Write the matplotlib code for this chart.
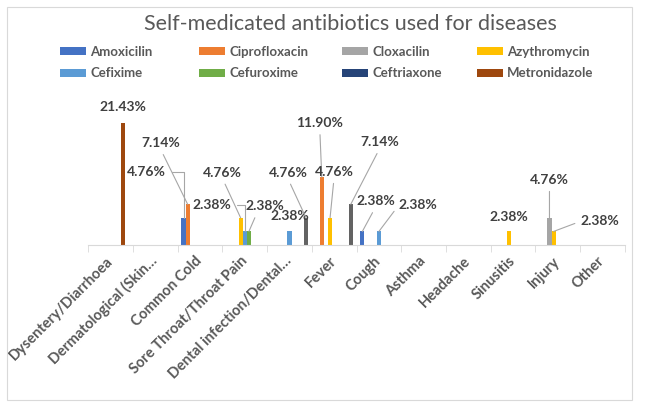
import numpy as np
import matplotlib.pyplot as plt
from matplotlib.patches import Rectangle

plt.rcParams['font.family'] = ['Lato', 'DejaVu Sans']

# Categories (diseases)
categories = ["Dysentery/Diarrhoea", "Dermatological (Skin\u2026", "Common Cold",
              "Sore Throat/Throat Pain", "Dental infection/Dental\u2026", "Fever",
              "Cough", "Asthma", "Headache", "Sinusitis", "Injury", "Other"]

# Series (antibiotics), values in %
series_names = ["Amoxicilin", "Ciprofloxacin", "Cloxacilin", "Azythromycin",
                "Cefixime", "Cefuroxime", "Ceftriaxone", "Metronidazole", ""]
amoxicilin    = [0, 0, 4.76, 0, 0, 0, 2.38, 0, 0, 0, 0, 0]
ciprofloxacin = [0, 0, 7.14, 0, 0, 11.90, 0, 0, 0, 0, 0, 0]
cloxacilin    = [0, 0, 0, 0, 0, 0, 0, 0, 0, 0, 4.76, 0]
azythromycin  = [0, 0, 0, 4.76, 0, 4.76, 0, 0, 0, 2.38, 2.38, 0]
cefixime      = [0, 0, 0, 2.38, 2.38, 0, 2.38, 0, 0, 0, 0, 0]
cefuroxime    = [0, 0, 0, 2.38, 0, 0, 0, 0, 0, 0, 0, 0]
ceftriaxone   = [0, 0, 0, 0, 0, 0, 0, 0, 0, 0, 0, 0]
metronidazole = [21.43, 0, 0, 0, 0, 0, 0, 0, 0, 0, 0, 0]
unnamed       = [0, 0, 0, 0, 4.76, 7.14, 0, 0, 0, 0, 0, 0]
all_series = [amoxicilin, ciprofloxacin, cloxacilin, azythromycin, cefixime,
              cefuroxime, ceftriaxone, metronidazole, unnamed]

colors = ["#4472C4", "#ED7D31", "#A5A5A5", "#FFC000", "#5B9BD5",
          "#70AD47", "#264478", "#9E480E", "#636363"]

# label placement: (series, category) -> (dx px, dy px, leader start, connector)
label_pos = {
    (7, 0): (0, 16, None, None),
    (0, 2): (-37, 46, (1, 0.5), "angle"),
    (1, 2): (-27, 61, (0.5, 0), None),
    (3, 3): (-18, 45, (0.5, 0), None),
    (4, 3): (-33, 26, (1, 0.5), "angle"),
    (5, 3): (16, 25, (0.3, 0), None),
    (4, 4): (0, 15, None, None),
    (8, 4): (-18, 45, (0.5, 0), None),
    (1, 5): (-2, 54, (0.5, 0), None),
    (3, 5): (4, 46, (0.5, 0), None),
    (8, 5): (29, 62, (0.5, 0), None),
    (0, 6): (13, 30, (0.5, 0), None),
    (4, 6): (39, 26, (0, 0.5), None),
    (3, 9): (0, 14, None, None),
    (2, 10): (0, 38, (0.5, 0), None),
    (3, 10): (46, 10, (0, 0.5), None),
}

fig = plt.figure(figsize=(6.45, 4.08), dpi=100)
ax = fig.add_axes([0.1369, 0.3995, 0.8318, 0.3493])

x = np.arange(len(categories))
w = 0.0926
handles = []
for i, vals in enumerate(all_series):
    b = ax.bar(x + (i - 4) * w, vals, width=w, color=colors[i], linewidth=0)
    handles.append(b)
    for j, v in enumerate(vals):
        if v == 0:
            continue
        dx, dy, rp, conn = label_pos[(i, j)]
        props = None
        if rp is not None:
            props = dict(arrowstyle='-', color='#a6a6a6', lw=0.8, shrinkA=2,
                         shrinkB=0, relpos=rp,
                         connectionstyle="angle,angleA=0,angleB=90,rad=0" if conn else "arc3")
        ax.annotate("%.2f%%" % v, xy=(x[j] + (i - 4) * w, v), xytext=(dx, dy),
                    textcoords='offset pixels', ha='center', va='center',
                    fontsize=10, fontweight='bold', color='#404040',
                    arrowprops=props)

ax.set_xlim(-0.5, len(categories) - 0.5)
ax.set_ylim(0, 25)
ax.set_yticks([])
for s in ['left', 'right', 'top']:
    ax.spines[s].set_visible(False)
ax.spines['bottom'].set_color('#d9d9d9')
ax.set_xticks(x)
ax.set_xticklabels(categories, rotation=45, ha='right', rotation_mode='anchor',
                   va='center', fontsize=10.5, fontweight='bold', color='#595959')
ax.tick_params(axis='x', which='major', length=0, pad=10)
ax.set_xticks(np.arange(-0.5, len(categories)), minor=True)
ax.tick_params(axis='x', which='minor', length=5, color='#d9d9d9')

fig.text(0.543, 0.94, "Self-medicated antibiotics used for diseases",
         ha='center', va='center', fontsize=15.5, color='#595959')

# legend: four columns of two entries, placed like the original
col_x = [60, 199, 342, 477]
for c in range(4):
    fig.legend([handles[c], handles[c + 4]], [series_names[c], series_names[c + 4]],
               loc='upper left', bbox_to_anchor=(col_x[c] / 645, 1 - 46 / 408),
               frameon=False, handlelength=2.0, handleheight=0.55,
               handletextpad=0.3, labelspacing=0.7, borderpad=0, borderaxespad=0,
               prop={'weight': 'bold', 'size': 9.5}, labelcolor='#595959')

fig.patches.append(Rectangle((7 / 645, 1 - 400 / 408), 625 / 645, 393 / 408,
                             transform=fig.transFigure, fill=False,
                             edgecolor='#d9d9d9', lw=0.8))

fig.savefig("out.png", dpi=100)
